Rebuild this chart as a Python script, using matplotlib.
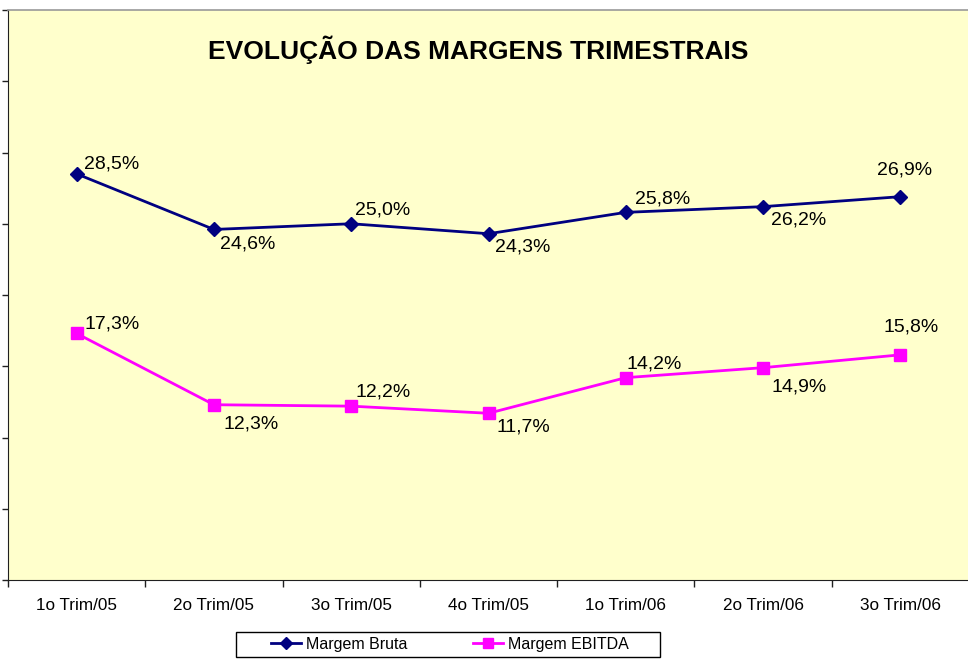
import matplotlib
matplotlib.use("Agg")
import matplotlib.pyplot as plt
from matplotlib.patches import Rectangle
from matplotlib.ticker import FixedLocator, NullFormatter

plt.rcParams['font.family'] = ['Liberation Sans', 'DejaVu Sans']

categories = ["1o Trim/05", "2o Trim/05", "3o Trim/05", "4o Trim/05",
              "1o Trim/06", "2o Trim/06", "3o Trim/06"]
margem_bruta = [28.5, 24.6, 25.0, 24.3, 25.8, 26.2, 26.9]
margem_ebitda = [17.3, 12.3, 12.2, 11.7, 14.2, 14.9, 15.8]
title = "EVOLUÇÃO DAS MARGENS TRIMESTRAIS"

# label offsets in pixels (dx, dy up), and horizontal alignment
bruta_offsets = [(7, 10), (6, -15), (4, 14), (6, -13), (9, 13), (8, -13), (4, 27)]
ebitda_offsets = [(8, 9), (10, -19), (4, 14), (8, -14), (1, 14), (8, -19), (11, 28)]
bruta_ha = ['left'] * 6 + ['center']
ebitda_ha = ['left'] * 6 + ['center']

W, H = 968, 664
fig = plt.figure(figsize=(W / 100, H / 100), dpi=100)
fig.patch.set_facecolor('white')
ax = fig.add_axes([8 / W, (H - 580) / H, (969 - 8) / W, (580 - 10) / H])
ax.set_facecolor('#FFFFCC')

x = list(range(len(categories)))
navy = '#000080'
mag = '#FF00FF'
ax.plot(x, margem_bruta, color=navy, lw=2.0, marker='D', ms=7, mec=navy, mfc=navy,
        label='Margem Bruta', zorder=3)
ax.plot(x, margem_ebitda, color=mag, lw=2.0, marker='s', ms=8, mec=mag, mfc=mag,
        label='Margem EBITDA', zorder=3)

def fmt(v):
    return f"{v:.1f}".replace('.', ',') + '%'

for xi, v, (dx, dy), ha in zip(x, margem_bruta, bruta_offsets, bruta_ha):
    ax.annotate(fmt(v), (xi, v), xytext=(dx, dy), textcoords='offset pixels',
                ha=ha, va='center', fontsize=14, color='black')
for xi, v, (dx, dy), ha in zip(x, margem_ebitda, ebitda_offsets, ebitda_ha):
    ax.annotate(fmt(v), (xi, v), xytext=(dx, dy), textcoords='offset pixels',
                ha=ha, va='center', fontsize=14, color='black')

ax.set_xlim(-0.5, len(categories) - 0.5)
ax.set_ylim(0, 40)
ax.set_yticks([0, 5, 10, 15, 20, 25, 30, 35, 40])
ax.yaxis.set_major_formatter(NullFormatter())
ax.tick_params(axis='y', direction='out', length=4, width=1, color='#202020')

ax.set_xticks(x)
ax.set_xticklabels(categories, fontsize=12.3)
ax.xaxis.set_minor_locator(FixedLocator([i - 0.5 for i in range(len(categories) + 1)]))
ax.tick_params(axis='x', which='major', length=0, pad=13)
ax.tick_params(axis='x', which='minor', direction='out', length=5, width=1, color='#202020')

ax.spines['right'].set_visible(False)
ax.spines['top'].set_color('#999999')
ax.spines['top'].set_linewidth(1.2)
ax.spines['left'].set_color('#202020')
ax.spines['bottom'].set_color('#202020')

fig.text(478 / W, 1 - 50 / H, title, ha='center', va='center',
         fontsize=19, fontweight='bold')

# legend box
fig.patches.append(Rectangle((236 / W, (H - 657) / H), (660 - 236) / W, 25 / H,
                             transform=fig.transFigure, facecolor='white',
                             edgecolor='black', lw=1.0, zorder=1))
fig.legend(loc='center', bbox_to_anchor=(450 / W, (H - 644.5) / H), ncol=2,
           frameon=False, fontsize=11.5, handlelength=1.9, handletextpad=0.3,
           columnspacing=4.1, markerscale=0.9)

fig.savefig('out.png', dpi=100)
